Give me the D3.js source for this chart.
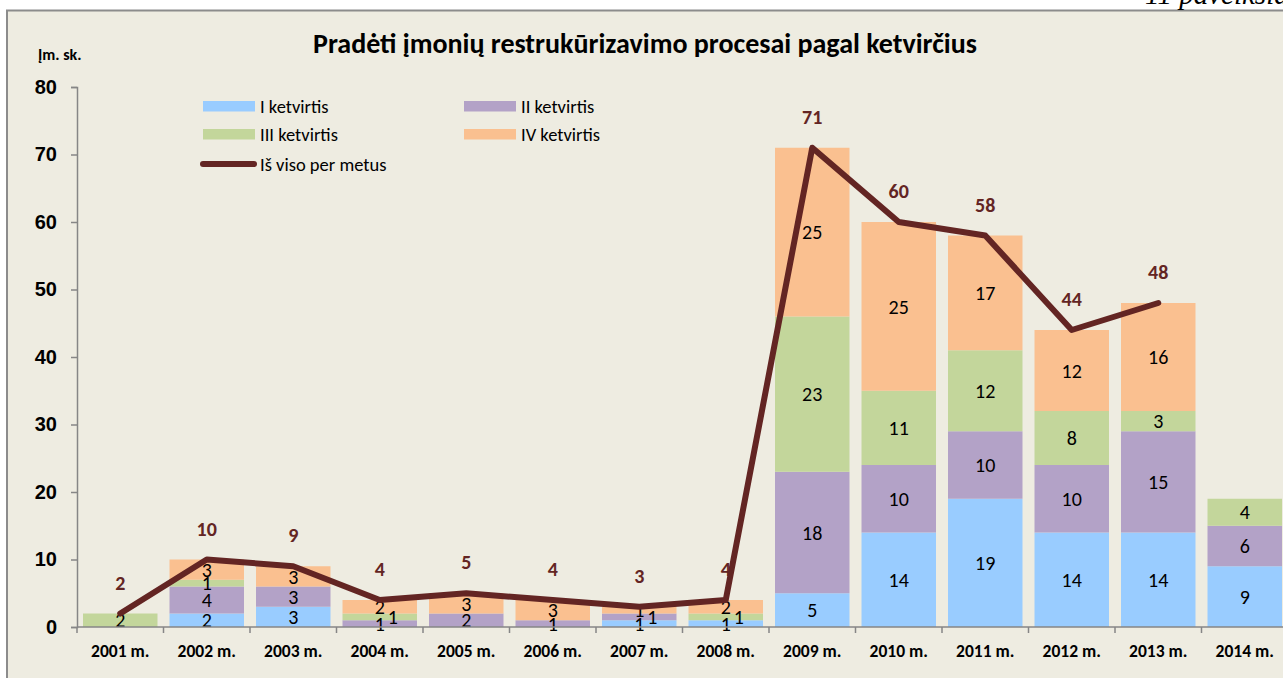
<!DOCTYPE html>
<html>
<head>
<meta charset="utf-8">
<title>Pradėti įmonių restrukūrizavimo procesai</title>
<script src="https://d3js.org/d3.v7.min.js"></script>
<style>
  body { margin: 0; background: #fff; }
  svg { display: block; font-family: Carlito, Lato, "Noto Sans", sans-serif; }
</style>
</head>
<body>
<svg id="chart"></svg>
<script>
const years = ["2001 m.", "2002 m.", "2003 m.", "2004 m.", "2005 m.", "2006 m.", "2007 m.",
               "2008 m.", "2009 m.", "2010 m.", "2011 m.", "2012 m.", "2013 m.", "2014 m."];
const q1 = [0, 2, 3, 0, 0, 0, 1, 1, 5, 14, 19, 14, 14, 9];
const q2 = [0, 4, 3, 1, 2, 1, 1, 0, 18, 10, 10, 10, 15, 6];
const q3 = [2, 1, 0, 1, 0, 0, 0, 1, 23, 11, 12, 8, 3, 4];
const q4 = [0, 3, 3, 2, 3, 3, 1, 2, 25, 25, 17, 12, 16, 0];
const totals = [2, 10, 9, 4, 5, 4, 3, 4, 71, 60, 58, 44, 48, null];
const seriesNames = ["I ketvirtis", "II ketvirtis", "III ketvirtis", "IV ketvirtis"];
const lineName = "Iš viso per metus";
const yTicks = [0, 10, 20, 30, 40, 50, 60, 70, 80];

const W = 1283, H = 678;
const colors = ["#99CCFF", "#B3A2C7", "#C3D69B", "#FAC090"];
const lineColor = "#632523";

const svg = d3.select("#chart").attr("width", W).attr("height", H);

// chart area background + border
svg.append("rect").attr("x", 7).attr("y", 10.5).attr("width", W + 10).attr("height", H)
  .attr("fill", "#EEECE1").attr("stroke", "#8C8C8C").attr("stroke-width", 2);

// figure caption, mostly cut off above the chart
svg.append("text").attr("x", 1300).attr("y", 4).attr("text-anchor", "end")
  .attr("font-family", "Liberation Serif, serif").attr("font-style", "italic")
  .attr("font-size", 29).attr("fill", "#000").text("11 paveikslas");

const plotLeft = 77, plotTop = 87, plotBottom = 627;
const x = d3.scaleBand().domain(years).range([plotLeft, plotLeft + 14 * 86.5])
  .paddingInner(0.139).paddingOuter(0.0695);
const y = d3.scaleLinear().domain([0, 80]).range([plotBottom, plotTop]);

// stacked bars
const rows = years.map((yr, i) => ({ year: yr, q0: q1[i], q1: q2[i], q2: q3[i], q3: q4[i] }));
const stack = d3.stack().keys(["q0", "q1", "q2", "q3"])(rows);

const g = svg.append("g");
stack.forEach((layer, k) => {
  g.selectAll(null).data(layer).join("rect")
    .attr("x", d => x(d.data.year))
    .attr("width", x.bandwidth())
    .attr("y", d => y(d[1]))
    .attr("height", d => y(d[0]) - y(d[1]))
    .attr("fill", colors[k]);
});

// segment labels (nudge sideways when crowded, like Excel does)
const labels = [];
years.forEach((yr, i) => {
  let prevY = null, side = 1;
  stack.forEach(layer => {
    const d = layer[i];
    const v = d[1] - d[0];
    if (!v) return;
    let cy = (y(d[0]) + y(d[1])) / 2;
    let cx = x(yr) + x.bandwidth() / 2;
    if (prevY !== null && prevY - cy < 9) { cx += 13 * side; side = -side; }
    else prevY = cy;
    labels.push({ cx, cy, v });
  });
});
svg.append("g").selectAll("text").data(labels).join("text")
  .attr("x", d => d.cx).attr("y", d => d.cy).attr("dy", "0.36em")
  .attr("text-anchor", "middle").attr("font-size", 20).attr("fill", "#000")
  .text(d => d.v);

// y axis
const yAxis = svg.append("g").attr("transform", `translate(${plotLeft},0)`)
  .call(d3.axisLeft(y).tickValues(yTicks).tickSize(6).tickPadding(14));
yAxis.select(".domain").attr("stroke", "#868686").attr("stroke-width", 1.5);
yAxis.selectAll(".tick line").attr("stroke", "#868686").attr("stroke-width", 1.5);
yAxis.selectAll(".tick text").attr("font-family", null).attr("font-size", 20)
  .attr("font-weight", "bold").attr("fill", "#000");

// x axis
svg.append("line").attr("x1", plotLeft).attr("x2", W + 10).attr("y1", plotBottom).attr("y2", plotBottom)
  .attr("stroke", "#868686").attr("stroke-width", 1.5);
const bounds = d3.range(years.length + 1).map(i => plotLeft + i * x.step());
svg.append("g").selectAll("line").data(bounds).join("line")
  .attr("x1", d => d).attr("x2", d => d).attr("y1", plotBottom).attr("y2", plotBottom + 6)
  .attr("stroke", "#868686").attr("stroke-width", 1.5);
svg.append("g").selectAll("text").data(years).join("text")
  .attr("x", d => x(d) + x.bandwidth() / 2).attr("y", 657)
  .attr("text-anchor", "middle").attr("font-size", 17.5).attr("font-weight", "bold")
  .attr("fill", "#000").text(d => d);

// total line
const pts = years.map((yr, i) => ({ yr, v: totals[i] })).filter(d => d.v !== null);
const line = d3.line().x(d => x(d.yr) + x.bandwidth() / 2).y(d => y(d.v));
svg.append("path").datum(pts).attr("d", line).attr("fill", "none")
  .attr("stroke", lineColor).attr("stroke-width", 6)
  .attr("stroke-linejoin", "round").attr("stroke-linecap", "round");
svg.append("g").selectAll("text").data(pts).join("text")
  .attr("x", d => x(d.yr) + x.bandwidth() / 2).attr("y", d => y(d.v) - 31)
  .attr("dy", "0.36em").attr("text-anchor", "middle")
  .attr("font-size", 20).attr("font-weight", "bold").attr("fill", lineColor)
  .text(d => d.v);

// titles
svg.append("text").attr("x", 645).attr("y", 53).attr("text-anchor", "middle")
  .attr("font-size", 28).attr("font-weight", "bold").attr("fill", "#000")
  .text("Pradėti įmonių restrukūrizavimo procesai pagal ketvirčius");
svg.append("text").attr("x", 38).attr("y", 60)
  .attr("font-size", 16).attr("font-weight", "bold").attr("fill", "#000")
  .text("Įm. sk.");

// legend
const legendItems = [
  { name: seriesNames[0], color: colors[0], lx: 203, ly: 106 },
  { name: seriesNames[1], color: colors[1], lx: 464, ly: 106 },
  { name: seriesNames[2], color: colors[2], lx: 203, ly: 134 },
  { name: seriesNames[3], color: colors[3], lx: 464, ly: 134 }
];
const leg = svg.append("g");
leg.selectAll("rect").data(legendItems).join("rect")
  .attr("x", d => d.lx).attr("y", d => d.ly - 5).attr("width", 52).attr("height", 10.5)
  .attr("fill", d => d.color);
leg.selectAll("text.s").data(legendItems).join("text").attr("class", "s")
  .attr("x", d => d.lx + 57).attr("y", d => d.ly).attr("dy", "0.36em")
  .attr("font-size", 18.5).attr("fill", "#000").text(d => d.name);
leg.append("line").attr("x1", 203).attr("x2", 254).attr("y1", 164).attr("y2", 164)
  .attr("stroke", lineColor).attr("stroke-width", 6).attr("stroke-linecap", "round");
leg.append("text").attr("x", 260).attr("y", 164).attr("dy", "0.36em")
  .attr("font-size", 18.5).attr("fill", "#000").text(lineName);
</script>
</body>
</html>
